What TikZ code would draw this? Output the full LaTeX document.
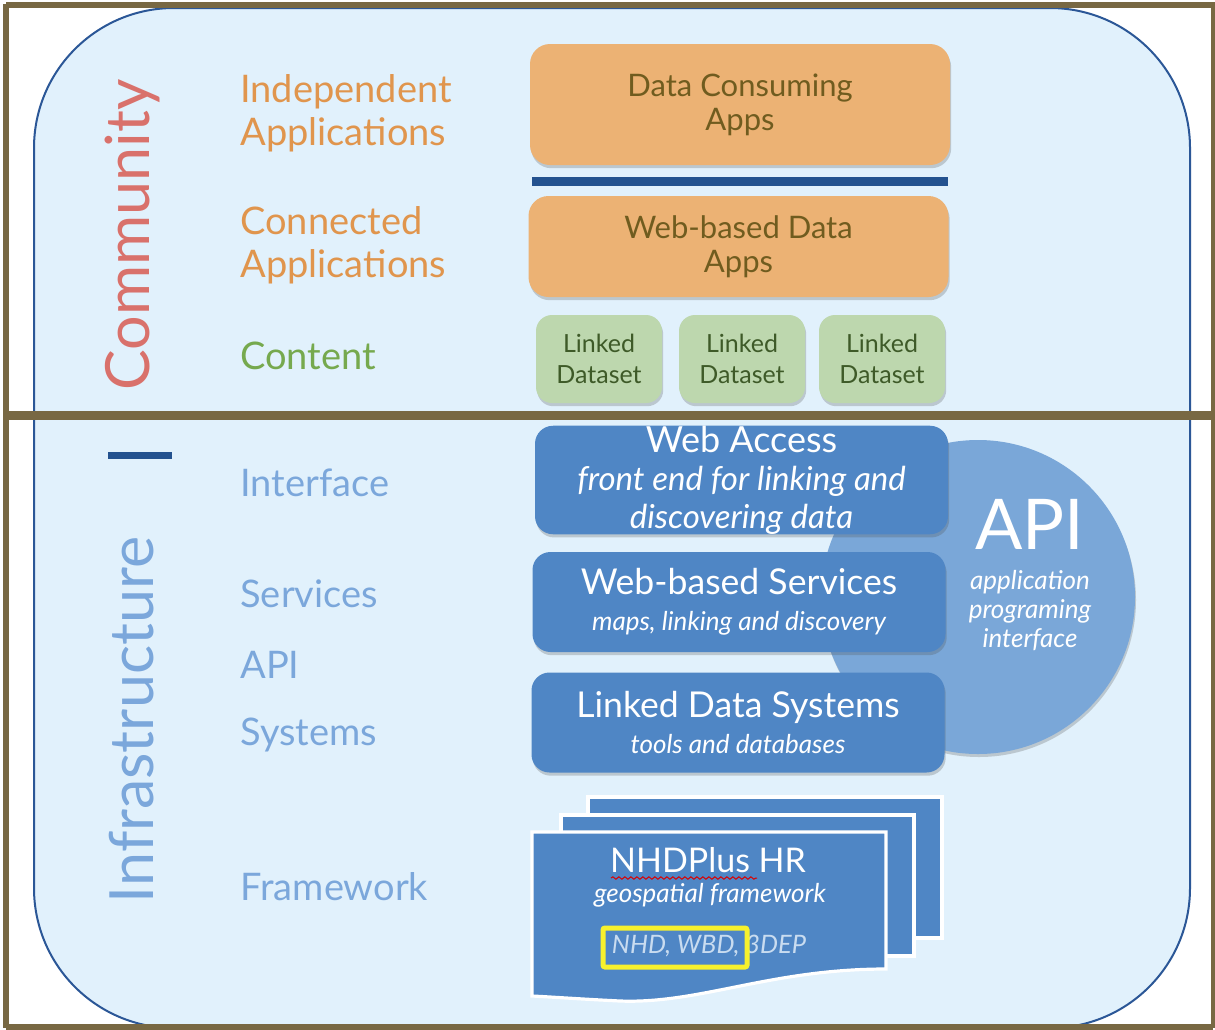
\documentclass[tikz,border=0pt]{standalone}
\usepackage{fontspec}
\setmainfont{Lato}
\usetikzlibrary{shadows,decorations.pathmorphing}

\definecolor{frameolive}{HTML}{786843}
\definecolor{panelfill}{HTML}{E1F1FC}
\definecolor{paneledge}{HTML}{2B5797}
\definecolor{barblue}{HTML}{23528F}
\definecolor{commred}{HTML}{D9716B}
\definecolor{lblorange}{HTML}{E0954D}
\definecolor{lblgreen}{HTML}{76A94E}
\definecolor{lblblue}{HTML}{7BA7DB}
\definecolor{boxorange}{HTML}{ECB274}
\definecolor{orangetext}{HTML}{705C1F}
\definecolor{boxgreen}{HTML}{BDD7AE}
\definecolor{greentext}{HTML}{3E5A28}
\definecolor{boxblue}{HTML}{4F86C5}
\definecolor{apiblue}{HTML}{7AA7D8}
\definecolor{dimwhite}{HTML}{C9DCF0}
\definecolor{markyellow}{HTML}{F7F12C}

\begin{document}
\begin{tikzpicture}[x=0.5pt,y=-0.5pt,every node/.style={inner sep=0pt},
    sidelbl/.style={font=\fontsize{30.5}{34}\selectfont,rotate=90},
    layerlbl/.style={font=\fontsize{19}{21.5}\selectfont,anchor=west,align=left},
    boxshadow/.style={drop shadow={shadow xshift=.6pt,shadow yshift=-1.6pt,opacity=.25,fill=black!70}},
    appbox/.style={fill=boxorange,rounded corners=10pt,boxshadow,minimum width=210pt,minimum height=50.5pt,
        text=orangetext,align=center,font=\fontsize{15.5}{17}\selectfont},
    databox/.style={fill=boxgreen,rounded corners=8pt,boxshadow,minimum width=63pt,minimum height=44pt,
        text=greentext,align=center,font=\fontsize{12.5}{15.5}\selectfont},
    svcbox/.style={fill=boxblue,rounded corners=9pt,boxshadow,minimum width=206.5pt,minimum height=50pt,
        text=white,align=center},
    page/.style={fill=boxblue,draw=white,line width=1.6pt}]
    \useasboundingbox (0,0) rectangle (1215,1029);
    \fill[white] (0,0) rectangle (1215,1029);
    % panel behind both layers
    \filldraw[fill=panelfill,draw=paneledge,line width=1pt,rounded corners=70pt] (34,8) rectangle (1190,1028);

    % API disc
    \fill[apiblue,drop shadow={shadow xshift=.5pt,shadow yshift=-1.5pt,opacity=.25,fill=black!70}] (978,597) circle (78.5pt);
    \node[text=white,font=\fontsize{35}{35}\selectfont] (apititle) at (1030,524) {API};
    \node[text=white,font=\fontsize{13}{14.5}\selectfont\itshape,align=center] (apidesc) at (1030,611)
        {application\\programing\\interface};

    % side titles
    \node[sidelbl,text=commred] (community) at (132,235) {Community};
    \node[sidelbl,text=lblblue] (infra) at (132,720) {Infrastructure};
    \fill[barblue] (108,451.5) rectangle (172,459);

    % layer names
    \node[layerlbl,text=lblorange] (lblindep) at (240,113) {Independent\\Applications};
    \node[layerlbl,text=lblorange] (lblconn) at (240,245) {Connected\\Applications};
    \node[layerlbl,text=lblgreen] (lblcontent) at (240,356) {Content};
    \node[layerlbl,text=lblblue] (lblinterface) at (240,483) {Interface};
    \node[layerlbl,text=lblblue] (lblservices) at (240,594) {Services};
    \node[layerlbl,text=lblblue] (lblapi) at (240,665) {API};
    \node[layerlbl,text=lblblue] (lblsystems) at (240,735) {Systems};
    \node[layerlbl,text=lblblue] (lblframework) at (240,887) {Framework};

    % community boxes
    \node[appbox,minimum height=60.5pt] (consume) at (740,104.5) {Data Consuming\\Apps};
    \fill[barblue] (532,177) rectangle (948,185.5);
    \node[appbox] (webapps) at (738.5,246.5) {Web-based Data\\Apps};
    \foreach \i/\cx in {1/599,2/742,3/882}
        \node[databox] (ds\i) at (\cx,359) {Linked\\Dataset};

    % infrastructure boxes
    \node[svcbox,font=\fontsize{16.5}{19}\selectfont\itshape] (webaccess) at (741.5,480)
        {{\upshape\fontsize{18}{19}\selectfont Web Access}\\front end for linking and\\discovering data};
    \node[svcbox,font=\fontsize{13}{18}\selectfont\itshape] (webservices) at (739,602)
        {{\upshape\fontsize{17.8}{18}\selectfont Web-based Services}\\maps, linking and discovery};
    \node[svcbox,font=\fontsize{13}{18}\selectfont\itshape] (ldsys) at (738,722.5)
        {{\upshape\fontsize{17.8}{18}\selectfont Linked Data Systems}\\tools and databases};

    % framework page stack
    \draw[page] (588,797) rectangle (942,938);
    \draw[page] (561,815) rectangle (914,956);
    \draw[page] (532,832) -- (886,832) -- (886,969) .. controls (770,969) and (700,1004) .. (620,1001)
        .. controls (580,999) and (552,997) .. (532,996) -- cycle;
    \node[text=white,font=\fontsize{17}{17}\selectfont] (nhdplus) at (708,860) {NHDPlus HR};
    \draw[red!85!black,line width=.5pt,decorate,decoration={snake,segment length=3pt,amplitude=.6pt}]
        (611,878) -- (757,878);
    \node[text=white,font=\fontsize{13}{13}\selectfont\itshape] (geoframe) at (710,895) {geospatial framework};
    \node[text=dimwhite,font=\fontsize{12.7}{12.7}\selectfont\itshape] (sources) at (709,946) {NHD, WBD, 3DEP};
    \draw[markyellow,line width=2.5pt,rounded corners=1pt] (603,928) rectangle (747,967);

    % frame
    \draw[frameolive,line width=3pt] (6,5) -- (1215,5);
    \draw[frameolive,line width=3pt] (6,3.5) -- (6,1027.5);
    \draw[frameolive,line width=2pt] (1213,5) -- (1213,1027.5);
    \draw[frameolive,line width=3pt] (6,1026.5) -- (1213,1026.5);
    \draw[frameolive,line width=4.5pt] (6,415) -- (1215,415);
\end{tikzpicture}
\end{document}
